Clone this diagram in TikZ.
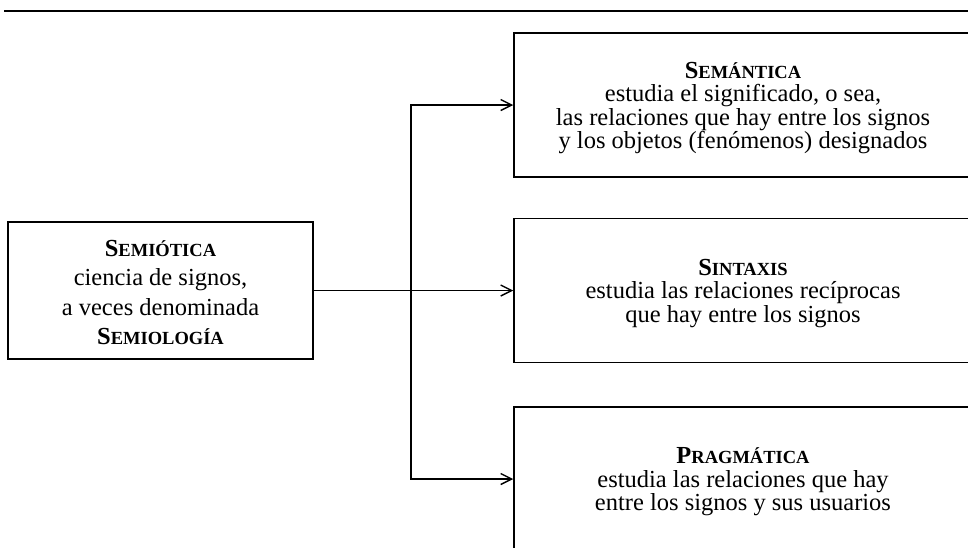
\documentclass[tikz,border=0pt]{standalone}
\usepackage{fontspec}
\setmainfont{Liberation Serif}
\usetikzlibrary{arrows.meta}
\newcommand\fsc[2]{\textbf{#1{\fontsize{18.5}{18.5}\selectfont #2}}}
\tikzset{
  txt/.style={font=\fontsize{24.5}{23.5}\selectfont, align=center, inner sep=0pt},
  bigtxt/.style={font=\fontsize{24.5}{29.5}\selectfont, align=center, inner sep=0pt},
  leftbox/.style={draw, line width=1.5pt, inner sep=0pt, minimum width=305pt, minimum height=137pt},
  rightbox/.style={draw, line width=1.5pt, inner sep=0pt, minimum width=458pt, minimum height=144pt},
  arr/.style={line width=1.4pt, -{Straight Barb[length=11pt,width=11pt,line width=1.4pt]}},
}
\begin{document}
\begin{tikzpicture}[x=1pt,y=1pt]
\useasboundingbox (0,0) rectangle (968,-547);
\coordinate (rl) at (4,-11);
\coordinate (rr) at (975,-11);
\draw[line width=1.7pt] (rl) -- (rr);
\node[leftbox] (semio) at (160.5,-290.5) {};
\node[bigtxt, yshift=-2pt] (semiot) at (semio.center) {\fsc{S}{EMIÓTICA}\\ciencia de signos,\\a veces denominada\\\fsc{S}{EMIOLOGÍA}};
\node[rightbox] (sem) at (743,-105) {};
\node[txt, yshift=-3pt] (semt) at (sem.center) {\fsc{S}{EMÁNTICA}\\estudia el significado, o sea,\\las relaciones que hay entre los signos\\y los objetos (fenómenos) designados};
\node[rightbox] (sint) at (743,-290.5) {};
\node[txt, yshift=-3pt] (sintt) at (sint.center) {\fsc{S}{INTAXIS}\\estudia las relaciones recíprocas\\que hay entre los signos};
\node[rightbox] (prag) at (743,-479) {};
\node[txt, yshift=-3pt] (pragt) at (prag.center) {\fsc{P}{RAGMÁTICA}\\estudia las relaciones que hay\\entre los signos y sus usuarios};
\coordinate (j) at (411,-290.5);
\draw[arr] (semio.east) -- (sint.west);
\draw[arr] (j) |- (sem.west);
\draw[arr] (j) |- (prag.west);
\end{tikzpicture}
\end{document}
